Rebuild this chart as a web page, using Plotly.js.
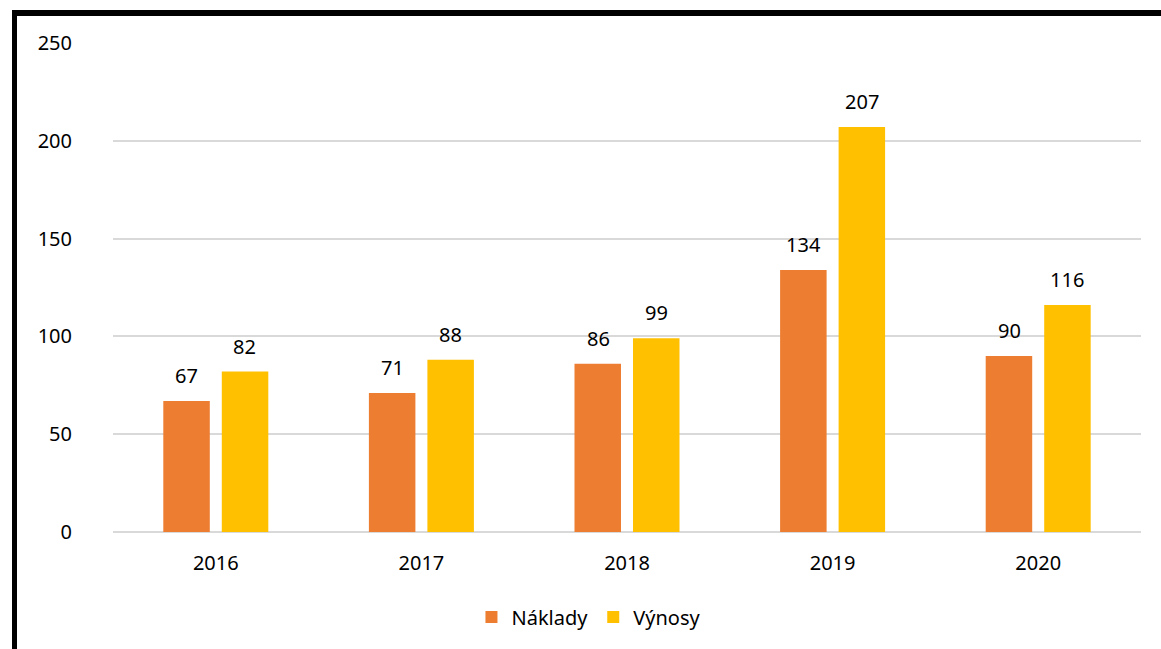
<!DOCTYPE html>
<html>
<head>
<meta charset="utf-8">
<script src="https://cdn.plot.ly/plotly-3.0.1.min.js"></script>
<style>
html,body{margin:0;padding:0;background:#fff;}
#wrap{position:relative;width:1161px;height:649px;overflow:hidden;}
#chart{position:absolute;left:0;top:0;width:1161px;height:649px;}
#frame{position:absolute;left:12px;top:10px;width:1200px;height:700px;border-top:6px solid #000;border-left:5px solid #000;pointer-events:none;}
</style>
</head>
<body>
<div id="wrap"><div id="chart"></div><div id="frame"></div></div>
<script>
const years = ['2016', '2017', '2018', '2019', '2020'];
const naklady = [67, 71, 86, 134, 90];
const vynosy = [82, 88, 99, 207, 116];
const yTicks = [0, 50, 100, 150, 200, 250];

const font = 'Noto Sans, DejaVu Sans, sans-serif';
const traces = [
  {type:'bar', name:'Náklady', x:years, y:naklady, marker:{color:'#ED7D31'}, hoverinfo:'none'},
  {type:'bar', name:'Výnosy', x:years, y:vynosy, marker:{color:'#FFC000'}, hoverinfo:'none'}
];
const annotations = [];
[[naklady,-29],[vynosy,29]].forEach(([vals,dx])=>{
  vals.forEach((v,i)=>{
    annotations.push({x:i, y:v, xref:'x', yref:'y', text:String(v), showarrow:false,
      xshift:dx, yanchor:'bottom', yshift:10, font:{family:font, size:20, color:'#000'}});
  });
});
const layout = {
  width:1161, height:649,
  margin:{l:113, r:20, t:43, b:117},
  paper_bgcolor:'#fff', plot_bgcolor:'#fff',
  barmode:'group', bargap:0.431, bargroupgap:0.205,
  font:{family:font, size:20, color:'#000'},
  xaxis:{type:'category', range:[-0.5, years.length-0.5], autorange:false, showgrid:false, zeroline:false, showline:false,
    ticks:'outside', ticklen:13, tickcolor:'rgba(0,0,0,0)', tickfont:{family:font,size:20,color:'#000'}},
  yaxis:{range:[0,250], autorange:false, tickvals:yTicks, showgrid:true, gridcolor:'#D9D9D9', gridwidth:2,
    zeroline:true, zerolinecolor:'#D9D9D9', zerolinewidth:2, showline:false,
    ticks:'outside', ticklen:36, tickcolor:'rgba(0,0,0,0)', tickfont:{family:font,size:20,color:'#000'}},
  showlegend:true,
  legend:{orientation:'h', x:0.463, xanchor:'center', y:-0.174, yanchor:'middle',
    font:{family:font,size:20,color:'#000'}, itemwidth:30, traceorder:'normal'},
  annotations: annotations
};
Plotly.newPlot('chart', traces, layout, {displayModeBar:false, staticPlot:true});
</script>
</body>
</html>
